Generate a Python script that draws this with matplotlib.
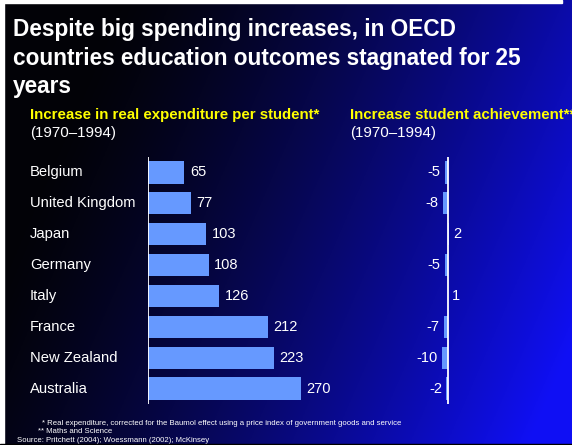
import numpy as np
import matplotlib
matplotlib.use("Agg")
import matplotlib.pyplot as plt

plt.rcParams['font.family'] = ['Liberation Sans', 'DejaVu Sans']

countries = ["Belgium", "United Kingdom", "Japan", "Germany", "Italy",
             "France", "New Zealand", "Australia"]
expenditure = [65, 77, 103, 108, 126, 212, 223, 270]
achievement = [-5, -8, 2, -5, 1, -7, -10, -2]

title_lines = ["Despite big spending increases, in OECD",
               "countries education outcomes stagnated for 25",
               "years"]
left_head = "Increase in real expenditure per student*"
right_head = "Increase student achievement**"
period = "(1970\u20131994)"
footnotes = ["* Real expenditure, corrected for the Baumol effect using a price index of government goods and service",
             "** Maths and Science"]
source = "Source: Pritchett (2004); Woessmann (2002); McKinsey"

W, H = 572, 445
fig = plt.figure(figsize=(W / 100, H / 100), dpi=100)

def px_axes(x0, y0, x1, y1, **kw):
    return fig.add_axes([x0 / W, 1 - y1 / H, (x1 - x0) / W, (y1 - y0) / H], **kw)

def ftext(x, y, s, **kw):
    fig.text(x / W, 1 - y / H, s, **kw)

# background gradient
bg = px_axes(0, 0, W, H)
xx, yy = np.meshgrid(np.linspace(0, 1, 300), np.linspace(0, 1, 240))
f = np.clip(0.95 * xx + 0.32 * yy - 0.2, 0, 1) ** 1.35
img = np.dstack([0.05 * f + 0.01, 0.05 * f + 0.01, 0.93 * f + 0.03])
bg.imshow(img, extent=[0, 1, 0, 1], aspect='auto', origin='upper')
bg.set_xlim(0, 1); bg.set_ylim(0, 1)
bg.axis('off')

# frame edges
fig.patches.append(plt.Rectangle((0, 0), 3.5 / W, 1, transform=fig.transFigure,
                                 color='white', zorder=5))
fig.patches.append(plt.Rectangle((0, 1 - 3 / H), 562 / W, 3 / H, transform=fig.transFigure,
                                 color='white', zorder=5))
fig.patches.append(plt.Rectangle((0, 0), 1, 1.5 / H, transform=fig.transFigure,
                                 color='black', zorder=5))

scale = 0.567  # px per unit
bar_color = '#6699FF'
row_top, row_bot = 157, 404

# left panel
axL = px_axes(147.5, row_top, 147.5 + 300 * scale, row_bot)
y = np.arange(len(countries))
axL.barh(y, expenditure, height=0.72, color=bar_color)
axL.set_xlim(0, 300)
axL.set_ylim(len(countries) - 0.5, -0.5)
axL.axis('off')
axL.axvline(0, color='white', lw=1.3)
for yi, v in zip(y, expenditure):
    axL.annotate(str(v), (v, yi), xytext=(4, 0), textcoords='offset points',
                 ha='left', va='center', color='white', fontsize=10.5)
for yi, c in zip(y, countries):
    axL.annotate(c, (0, yi), xytext=(30 - 147.5, 0), textcoords='offset pixels',
                 ha='left', va='center', color='white', fontsize=10.6,
                 annotation_clip=False)

# right panel
x0r = 447.5
axR = px_axes(x0r - 60 * scale, row_top, x0r + 100 * scale, row_bot)
axR.barh(y, achievement, height=0.72, color=bar_color)
axR.set_xlim(-60, 100)
axR.set_ylim(len(countries) - 0.5, -0.5)
axR.axis('off')
axR.axvline(0, color='white', lw=1.3)
for yi, v in zip(y, achievement):
    if v < 0:
        axR.annotate(str(v), (v, yi), xytext=(-3, 0), textcoords='offset points',
                     ha='right', va='center', color='white', fontsize=10.5)
    else:
        axR.annotate(str(v), (v, yi), xytext=(3, 0), textcoords='offset points',
                     ha='left', va='center', color='white', fontsize=10.5)

# titles
for i, line in enumerate(title_lines):
    ftext(13, [36, 65, 93][i], line, color='white', fontsize=16.3, fontweight='bold',
          va='baseline', ha='left')
ftext(30, 119, left_head, color='#FFFF00', fontsize=10.8, fontweight='bold', va='baseline')
ftext(30, 137, period, color='white', fontsize=10.8, va='baseline')
ftext(350, 119, right_head, color='#FFFF00', fontsize=10.8, fontweight='bold', va='baseline')
ftext(350, 137, period, color='white', fontsize=10.8, va='baseline')

# footnotes
ftext(42, 425, footnotes[0], color='white', fontsize=5.6, va='baseline')
ftext(38, 433, footnotes[1], color='white', fontsize=5.6, va='baseline')
ftext(17, 442, source, color='white', fontsize=5.6, va='baseline')

fig.savefig("out.png", dpi=100)
